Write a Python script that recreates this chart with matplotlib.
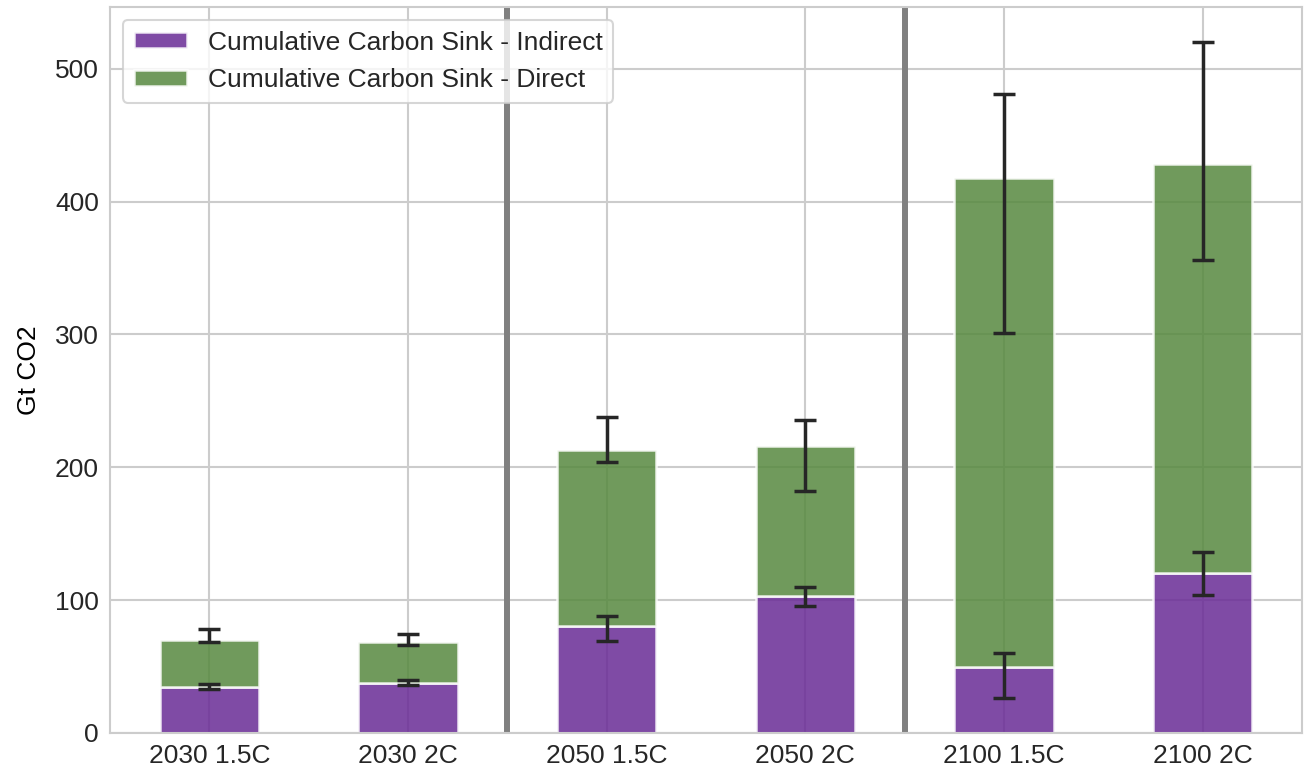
import matplotlib
matplotlib.use("Agg")
import matplotlib.pyplot as plt
import numpy as np

categories = ['2030 1.5C', '2030 2C', '2050 1.5C', '2050 2C', '2100 1.5C', '2100 2C']
indirect = [34.5, 37.3, 80.2, 102.8, 49.8, 120.5]
direct = [35.8, 31.1, 133.0, 113.4, 368.0, 308.0]
indirect_lo = [33.1, 35.9, 69.3, 95.4, 26.4, 104.1]
indirect_hi = [36.9, 39.7, 88.1, 109.9, 60.2, 136.3]
total_lo = [68.5, 66.0, 204.3, 182.2, 301.2, 356.4]
total_hi = [78.1, 74.5, 238.2, 235.7, 480.7, 520.3]
separators = [1.5, 3.5]

plt.rcParams['font.family'] = ['Liberation Sans', 'DejaVu Sans']
plt.rcParams['text.color'] = '#262626'
plt.rcParams['xtick.color'] = '#262626'
plt.rcParams['ytick.color'] = '#262626'

fig = plt.figure(figsize=(13.08, 7.78), dpi=100)
ax = fig.add_axes([110/1308, 45/778, (1302-110)/1308, (733-7)/778])
ax.set_axisbelow(True)
ax.grid(True, color='#cccccc', linewidth=1.5)
for s in ax.spines.values():
    s.set_color('#cccccc')
    s.set_linewidth(1.5)

x = np.arange(len(categories))
ind = np.array(indirect)
dirr = np.array(direct)
tot = ind + dirr
c_ind = '#692b96'
c_dir = '#57893f'
ax.bar(x, ind, width=0.5, color=c_ind, alpha=0.85, edgecolor='white', linewidth=1.8,
       label='Cumulative Carbon Sink - Indirect')
ax.bar(x, dirr, bottom=ind, width=0.5, color=c_dir, alpha=0.85, edgecolor='white', linewidth=1.8,
       label='Cumulative Carbon Sink - Direct')

for xc in separators:
    ax.axvline(xc, color='gray', linewidth=4.3, zorder=1.5)

ind_err = np.array([ind - np.array(indirect_lo), np.array(indirect_hi) - ind])
tot_err = np.array([tot - np.array(total_lo), np.array(total_hi) - tot])
ax.errorbar(x, ind, yerr=ind_err, fmt='none', ecolor='#262626', elinewidth=2.5,
            capsize=8, capthick=2.5, zorder=3)
ax.errorbar(x, tot, yerr=tot_err, fmt='none', ecolor='#262626', elinewidth=2.5,
            capsize=8, capthick=2.5, zorder=3)

ax.set_xlim(-0.5, len(categories) - 0.5)
ax.set_ylim(0, 546.5)
ax.set_xticks(x)
ax.set_xticklabels(categories)
ax.set_yticks([0, 100, 200, 300, 400, 500])
ax.tick_params(axis='both', labelsize=19, length=0, pad=8)
ax.set_ylabel('Gt CO2', fontsize=19, labelpad=10)

leg = ax.legend(loc='upper left', fontsize=19, frameon=True, framealpha=0.8,
                edgecolor='#cccccc', fancybox=True, borderaxespad=0.5,
                handlelength=2.0, handleheight=0.55)
leg.get_frame().set_linewidth(1.5)

fig.savefig('out.png', dpi=100)
